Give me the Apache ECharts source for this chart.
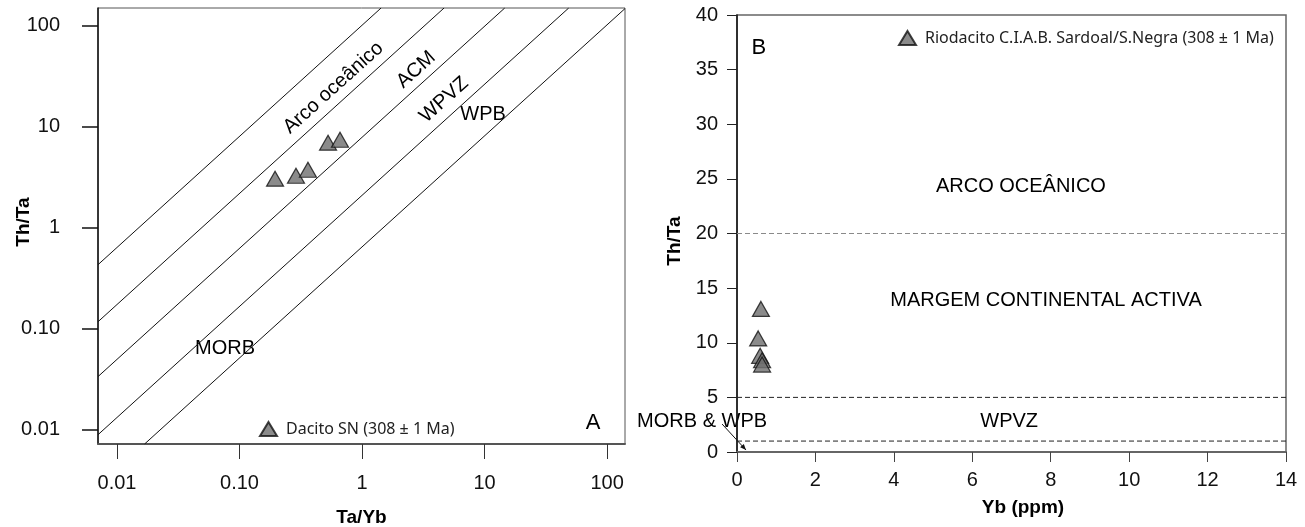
<!DOCTYPE html>
<html>
<head>
<meta charset="utf-8">
<script src="https://cdn.jsdelivr.net/npm/echarts@6/dist/echarts.min.js"></script>
<style>
  html, body { margin: 0; padding: 0; background: #fff; }
  #main { width: 1305px; height: 527px; }
</style>
</head>
<body>
<div id="main"></div>
<script>
// --- painel A: Th/Ta vs Ta/Yb (log-log) ---
var taYb = [0.195, 0.289, 0.362, 0.528, 0.661];
var thTaA = [3.06, 3.27, 3.75, 6.95, 7.43];
var logTicks = [0.01, 0.1, 1, 10, 100];

var arcoLine = [[0.007, 0.43], [1.43, 150]];
var acmLine = [[0.007, 0.117], [4.67, 150]];
var wpvzLine = [[0.007, 0.0335], [14.6, 150]];
var wpbLine = [[0.007, 0.0089], [48.6, 150]];
var morbLine = [[0.0168, 0.0072], [140, 148]];

var zoneNamesA = ['Arco oceânico', 'ACM', 'WPVZ', 'WPB', 'MORB', 'A'];
var zonePosA = [[0.585, 24.3], [2.76, 36.7], [4.67, 18.5], [9.72, 13.1], [0.0762, 0.0634], [76.9, 0.0117]];
var zoneRotA = [42, 42, 42, 0, 0, 0];

// --- painel B: Th/Ta vs Yb ---
var yb = [0.61, 0.54, 0.59, 0.64, 0.64];
var thTaB = [13.1, 10.4, 8.8, 8.4, 8.0];
var limitsB = [20, 5, 1];
var limitColors = ['#8a8a8a', '#222', '#222'];

var zoneNamesB = ['ARCO OCEÂNICO', 'MARGEM CONTINENTAL ACTIVA', 'WPVZ', 'MORB & WPB', 'B'];
var zonePosB = [[7.24, 24.3], [7.88, 13.9], [6.94, 2.75], [-0.89, 2.75], [0.56, 37.0]];
var arrowB = [[-0.38, 2.56], [0.23, 0.18]];

var fontMain = '"Liberation Sans", Arial, sans-serif';
var fontLegend = '"Noto Sans", sans-serif';

var myChart = echarts.init(document.getElementById('main'));

function logLabel(v) {
  if (Math.abs(v - 0.1) < 1e-9) return '0.10';
  if (v < 1) return v.toFixed(2);
  return String(Math.round(v));
}

var triStyle = { color: '#6e6e6e', borderColor: '#111', borderWidth: 1.2 };

var boundarySeries = [arcoLine, acmLine, wpvzLine, wpbLine, morbLine].map(function (seg) {
  return {
    type: 'line', xAxisIndex: 0, yAxisIndex: 0,
    data: seg, symbol: 'none', silent: true,
    lineStyle: { color: '#111', width: 1 }
  };
});

var limitSeries = limitsB.map(function (v, i) {
  return {
    type: 'line', xAxisIndex: 1, yAxisIndex: 1,
    data: [[0, v], [14, v]], symbol: 'none', silent: true,
    lineStyle: { color: limitColors[i], width: 1, type: [5, 3] }
  };
});

var option = {
  animation: false,
  backgroundColor: '#fff',
  grid: [
    { left: 98, top: 8, width: 527, height: 436, show: true, borderColor: '#555', borderWidth: 1, outerBoundsMode: 'none', containLabel: false },
    { left: 737, top: 15, width: 549, height: 437, show: true, borderColor: '#666', borderWidth: 1.5, outerBoundsMode: 'none', containLabel: false }
  ],
  legend: [
    {
      data: ['Dacito SN (308 ± 1 Ma)'], left: 259, top: 421, padding: 0,
      icon: 'triangle', itemWidth: 17, itemHeight: 14,
      textStyle: { fontFamily: fontLegend, fontSize: 16, color: '#222', padding: [0, 0, 0, 4] }
    },
    {
      data: ['Riodacito C.I.A.B. Sardoal/S.Negra (308 ± 1 Ma)'], left: 898, top: 30, padding: 0,
      icon: 'triangle', itemWidth: 17, itemHeight: 14,
      textStyle: { fontFamily: fontLegend, fontSize: 16, color: '#222', padding: [0, 0, 0, 4] }
    }
  ],
  xAxis: [
    {
      type: 'log', logBase: 10, gridIndex: 0, min: 0.007, max: 140,
      name: 'Ta/Yb', nameLocation: 'middle', nameGap: 64, nameMoveOverlap: false,
      nameTextStyle: { fontFamily: fontMain, fontSize: 19, fontWeight: 'bold', color: '#000' },
      axisLine: { lineStyle: { color: '#555', width: 2 } },
      axisTick: { length: 15, customValues: logTicks, lineStyle: { color: '#333' } },
      axisLabel: { customValues: logTicks, formatter: logLabel, margin: 29, fontFamily: fontMain, fontSize: 20, color: '#111' },
      splitLine: { show: false }, minorTick: { show: false }
    },
    {
      type: 'value', gridIndex: 1, min: 0, max: 14, interval: 2,
      name: 'Yb (ppm)', nameLocation: 'middle', nameGap: 46, nameMoveOverlap: false,
      nameTextStyle: { fontFamily: fontMain, fontSize: 19, fontWeight: 'bold', color: '#000', padding: [0, 0, 0, 23] },
      axisLine: { lineStyle: { color: '#666', width: 2 } },
      axisTick: { length: 10, lineStyle: { color: '#444' } },
      axisLabel: { margin: 18, fontFamily: fontMain, fontSize: 20, color: '#111' },
      splitLine: { show: false }
    }
  ],
  yAxis: [
    {
      type: 'log', logBase: 10, gridIndex: 0, min: 0.0072, max: 150,
      name: 'Th/Ta', nameLocation: 'middle', nameRotate: 90, nameGap: 65, nameMoveOverlap: false,
      nameTextStyle: { fontFamily: fontMain, fontSize: 19, fontWeight: 'bold', color: '#000', padding: [0, 0, 0, 8] },
      axisLine: { lineStyle: { color: '#111', width: 1.5 } },
      axisTick: { length: 16, customValues: logTicks, lineStyle: { color: '#111', width: 1.5 } },
      axisLabel: { customValues: logTicks, formatter: logLabel, margin: 38, fontFamily: fontMain, fontSize: 20, color: '#111' },
      splitLine: { show: false }, minorTick: { show: false }
    },
    {
      type: 'value', gridIndex: 1, min: 0, max: 40, interval: 5,
      name: 'Th/Ta', nameLocation: 'middle', nameRotate: 90, nameGap: 53, nameMoveOverlap: false,
      nameTextStyle: { fontFamily: fontMain, fontSize: 19, fontWeight: 'bold', color: '#000', padding: [0, 15, 0, 0] },
      axisLine: { lineStyle: { color: '#111', width: 1.5 } },
      axisTick: { length: 10, lineStyle: { color: '#222' } },
      axisLabel: { margin: 19, fontFamily: fontMain, fontSize: 20, color: '#111' },
      splitLine: { show: false }
    }
  ],
  series: boundarySeries.concat(limitSeries).concat([
    {
      name: 'Dacito SN (308 ± 1 Ma)', type: 'scatter', xAxisIndex: 0, yAxisIndex: 0,
      symbol: 'triangle', symbolSize: [17, 15], itemStyle: triStyle,
      data: taYb.map(function (x, i) { return [x, thTaA[i]]; })
    },
    {
      name: 'Riodacito C.I.A.B. Sardoal/S.Negra (308 ± 1 Ma)', type: 'scatter', xAxisIndex: 1, yAxisIndex: 1,
      symbol: 'triangle', symbolSize: [17, 15], itemStyle: triStyle,
      data: yb.map(function (x, i) { return [x, thTaB[i]]; })
    }
  ])
};

myChart.setOption(option);

// anotações posicionadas em coordenadas dos dados
var graphics = [];
zoneNamesA.forEach(function (t, i) {
  var p = myChart.convertToPixel({ xAxisIndex: 0, yAxisIndex: 0 }, zonePosA[i]);
  graphics.push({
    type: 'text', x: p[0], y: p[1], rotation: zoneRotA[i] * Math.PI / 180, silent: true,
    style: { text: t, align: 'center', verticalAlign: 'middle', fill: '#000',
      font: (t === 'A' ? '22px ' : '20px ') + fontMain }
  });
});
zoneNamesB.forEach(function (t, i) {
  var p = myChart.convertToPixel({ xAxisIndex: 1, yAxisIndex: 1 }, zonePosB[i]);
  graphics.push({
    type: 'text', x: p[0], y: p[1], silent: true,
    style: { text: t, align: 'center', verticalAlign: 'middle', fill: '#000',
      font: (t === 'B' ? '22px ' : '20px ') + fontMain }
  });
});
var a0 = myChart.convertToPixel({ xAxisIndex: 1, yAxisIndex: 1 }, arrowB[0]);
var a1 = myChart.convertToPixel({ xAxisIndex: 1, yAxisIndex: 1 }, arrowB[1]);
var ang = Math.atan2(a1[1] - a0[1], a1[0] - a0[0]);
var hl = 6, hw = 2.5;
graphics.push({
  type: 'line', silent: true,
  shape: { x1: a0[0], y1: a0[1], x2: a1[0], y2: a1[1] },
  style: { stroke: '#111', lineWidth: 1 }
});
graphics.push({
  type: 'polygon', silent: true,
  shape: { points: [
    [a1[0], a1[1]],
    [a1[0] - hl * Math.cos(ang) + hw * Math.sin(ang), a1[1] - hl * Math.sin(ang) - hw * Math.cos(ang)],
    [a1[0] - hl * Math.cos(ang) - hw * Math.sin(ang), a1[1] - hl * Math.sin(ang) + hw * Math.cos(ang)]
  ] },
  style: { fill: '#111' }
});
myChart.setOption({ graphic: graphics });
</script>
</body>
</html>
